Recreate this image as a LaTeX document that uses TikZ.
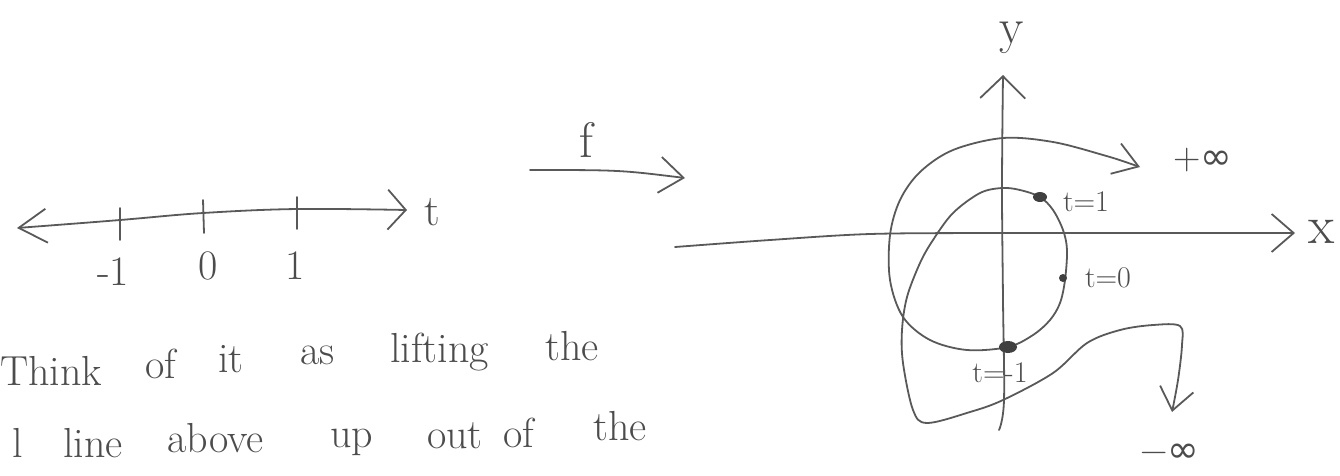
\documentclass[tikz,border=0pt]{standalone}
\usepackage{fontspec}
\newfontfamily\symfont{DejaVu Sans}
\usetikzlibrary{arrows.meta}
\tikzset{
  pencil/.style={draw=black!65, line width=1.8pt, line cap=round, line join=round},
  lbl/.style={inner sep=0pt, text=black!70},
  word/.style={lbl, anchor=base west, font=\fontsize{42}{50}\selectfont},
}
\begin{document}
\begin{tikzpicture}[x=1pt,y=-1pt]
\useasboundingbox (0,0) rectangle (1340,475);
% number line
\draw[pencil, {Straight Barb[length=28pt,width=34pt,line width=1.8pt]}-{Straight Barb[length=18pt,width=40pt,line width=1.8pt]}]
  plot[smooth, tension=0.6] coordinates {(17,228) (120,220) (203,213) (297,209) (407,210)};
\draw[pencil] (120,208) -- (120,240);
\draw[pencil] (203,200) -- (204,233);
\draw[pencil] (297,197) -- (297,229);
\node[lbl, font=\fontsize{42}{50}\selectfont] (lm1) at (113,272) {-1};
\node[lbl, font=\fontsize{42}{50}\selectfont] (l0) at (208,266) {0};
\node[lbl, font=\fontsize{42}{50}\selectfont] (l1) at (295,266) {1};
\node[lbl, font=\fontsize{44}{50}\selectfont] (lt) at (432,212) {t};
% text, line 1
\node[word] (w1) at (0,385) {Think};
\node[word] (w2) at (145,378) {of};
\node[word] (w3) at (218,372) {it};
\node[word] (w4) at (300,364) {as};
\node[word] (w5) at (390,362) {lifting};
\node[word] (w6) at (545,360) {the};
% text, line 2
\node[word] (v1) at (12,457) {l};
\node[word] (v2) at (63,457) {line};
\node[word] (v3) at (167,452) {above};
\node[word] (v4) at (330,447) {up};
\node[word] (v5) at (427,448) {out};
\node[word] (v6) at (503,447) {of};
\node[word] (v7) at (593,440) {the};
% f arrow
\coordinate (fa) at (530,170);
\coordinate (fb) at (685,178);
\draw[pencil, {Straight Barb[length=24pt,width=36pt,line width=1.8pt]}-] (fb) .. controls (620,170) .. (fa);
\node[lbl, font=\fontsize{50}{56}\selectfont] (f) at (586,140) {f};
% axes
\draw[pencil, -{Straight Barb[length=22pt,width=38pt,line width=1.8pt]}]
  plot[smooth, tension=0.5] coordinates {(675,247) (770,240) (870,234) (1000,233) (1295,233)};
\draw[pencil, -{Straight Barb[length=22pt,width=45pt,line width=1.8pt]}]
  plot[smooth, tension=0.6] coordinates {(999,430) (1004,400) (1003,300) (1002,188) (1003,75)};
\node[lbl, font=\fontsize{54}{60}\selectfont] (xl) at (1322,232) {x};
\node[lbl, font=\fontsize{50}{56}\selectfont] (yl) at (1012,38) {y};
% curve
\draw[pencil, {Straight Barb[length=24pt,width=32pt,line width=1.8pt]}-{Straight Barb[length=22pt,width=34pt,line width=1.8pt]}]
  plot[smooth, tension=0.55] coordinates {
  (1140,167) (1103,155) (1053,142) (1003,138) (953,150) (920,172) (900,200) (890,235)
  (890,280) (903,317) (930,340) (967,350) (1008,347) (1033,335) (1050,320) (1060,303)
  (1065,280) (1067,250) (1063,230) (1053,210) (1040,197) (1020,190) (1002,188) (980,193)
  (953,213) (933,240) (920,263) (907,297) (902,330) (903,363) (913,410) (927,423)
  (970,412) (1003,400) (1053,373) (1087,343) (1120,330) (1153,325) (1180,326)
  (1182,345) (1178,380) (1172,412)};
% points
\fill[black!75] (1040,197) ellipse [x radius=7pt, y radius=5pt];
\coordinate (p1) at (1040,197);
\fill[black!75] (1063,278) circle [radius=4pt];
\coordinate (p0) at (1063,278);
\fill[black!75] (1008,347) ellipse [x radius=9pt, y radius=6pt];
\coordinate (pm1) at (1008,347);
\node[lbl, font=\fontsize{30}{36}\selectfont] (lp1) at (1086,202) {t=1};
\node[lbl, font=\fontsize{30}{36}\selectfont] (lp0) at (1108,278) {t=0};
\node[lbl, font=\fontsize{30}{36}\selectfont] (lpm1) at (1000,373) {t=-1};
\node[lbl, font=\fontsize{38}{46}\selectfont] (pinf) at (1203,160) {+{\symfont ∞}};
\node[lbl, font=\fontsize{38}{46}\selectfont] (minf) at (1170,453) {−{\symfont ∞}};
\end{tikzpicture}
\end{document}
